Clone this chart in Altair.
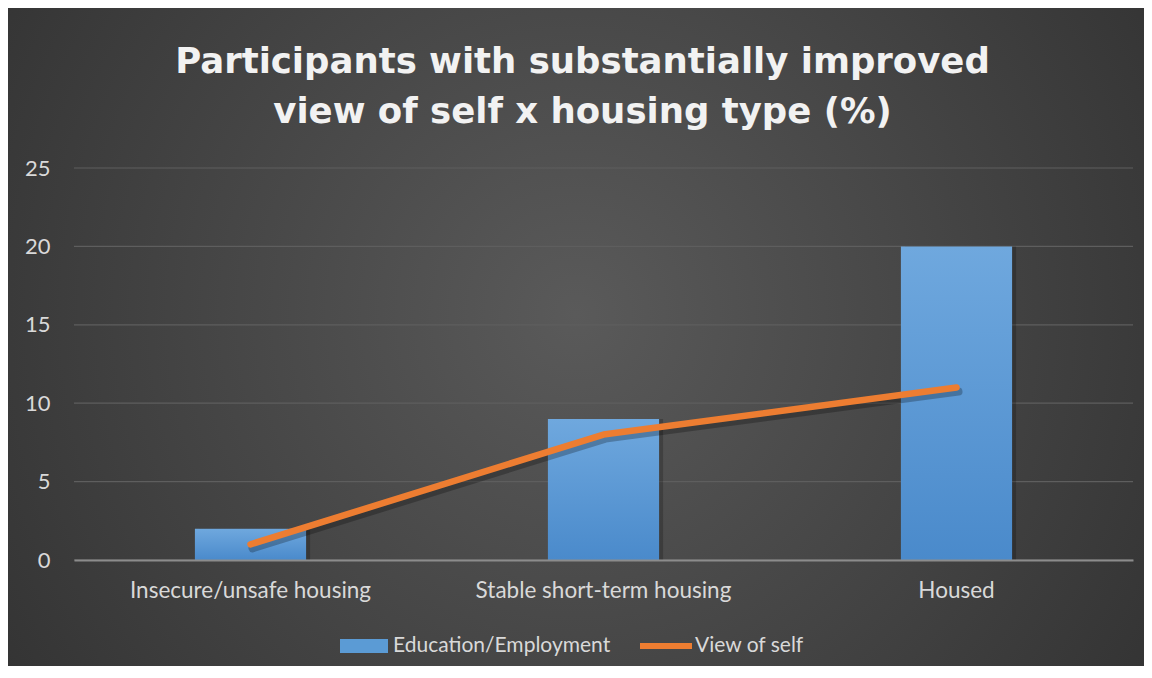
import altair as alt
import pandas as pd

# ---- data ----
categories = ["Insecure/unsafe housing", "Stable short-term housing", "Housed"]
education_employment = [2, 9, 20]
view_of_self = [1, 8, 11]
y_ticks = [0, 5, 10, 15, 20, 25]
series_names = ["Education/Employment", "View of self"]
title_lines = ["Participants with substantially improved", "view of self x housing type (%)"]

bar_df = pd.DataFrame({"category": categories, "value": education_employment, "series": series_names[0]})
line_df = pd.DataFrame({"category": categories, "value": view_of_self, "series": series_names[1]})
grid_df = pd.DataFrame({"value": y_ticks})

# ---- layout ----
W, H = 1059, 392
PAD_L, PAD_T, PAD_R, PAD_B = 66, 160, 11, 106
TOTAL_W = PAD_L + W + PAD_R
TOTAL_H = PAD_T + H + PAD_B
FONT = "Lato"
TXT = "#d9d9d9"

x_enc = alt.X(
    "category:N",
    sort=categories,
    scale=alt.Scale(paddingInner=0.685, paddingOuter=0.3425),
    axis=alt.Axis(
        title=None, labelAngle=0, labelFont=FONT, labelFontSize=22.5, labelColor=TXT,
        labelPadding=19, labelLimit=400, ticks=False, domain=True, domainColor="#8c8c8c",
        domainWidth=2, grid=False, zindex=1,
    ),
)
y_enc = alt.Y(
    "value:Q",
    scale=alt.Scale(domain=[0, 25], nice=False),
    axis=alt.Axis(
        title=None, values=y_ticks, labelFont=FONT, labelFontSize=22, labelColor=TXT,
        labelPadding=24, ticks=False, domain=False, grid=False, zindex=1,
    ),
)

# background (decoration covering the whole chart)
bg = alt.Chart(alt.Data(values=[{"k": 1}])).mark_rect(
    fill=alt.RadialGradient(
        gradient="radial",
        stops=[alt.GradientStop(color="#5a5a5a", offset=0), alt.GradientStop(color="#282828", offset=1)],
        x1=0.5, y1=0.48, r1=0, x2=0.5, y2=0.48, r2=0.78,
    )
).encode(
    x=alt.value(-PAD_L), x2=alt.value(TOTAL_W - PAD_L),
    y=alt.value(-PAD_T), y2=alt.value(TOTAL_H - PAD_T),
)

grid = alt.Chart(grid_df).mark_rule(color="#5e5e5e", strokeWidth=1.2).encode(y=y_enc)

bar_shadow = alt.Chart(bar_df).mark_bar(color="#000000", opacity=0.2, xOffset=4).encode(
    x=x_enc, y=y_enc
)

bars = alt.Chart(bar_df).mark_bar(
    fill=alt.LinearGradient(
        gradient="linear",
        stops=[alt.GradientStop(color="#6fa8de", offset=0), alt.GradientStop(color="#4a8acb", offset=1)],
        x1=0, x2=0, y1=0, y2=1,
    )
).encode(x=x_enc, y=y_enc)

bar_legend = alt.Chart(bar_df).mark_bar(opacity=0).encode(
    x=x_enc, y=y_enc,
    color=alt.Color(
        "series:N",
        scale=alt.Scale(domain=[series_names[0]], range=["#5b9bd5"]),
        legend=alt.Legend(
            orient="none", legendX=266, legendY=454, title=None,
            symbolType="M-1,-0.29H1V0.29H-1Z", symbolSize=2304, symbolOpacity=1,
            symbolStrokeWidth=0, labelFont=FONT, labelFontSize=21, labelColor=TXT,
            labelOffset=5, labelLimit=400, padding=0, zindex=1,
        ),
    ),
)

line_shadow = alt.Chart(line_df).mark_line(
    color="#000000", opacity=0.25, strokeWidth=8, strokeCap="round", strokeJoin="round",
    xOffset=2, yOffset=4,
).encode(x=x_enc, y=y_enc)

line = alt.Chart(line_df).mark_line(
    strokeWidth=6.5, strokeCap="round", strokeJoin="round"
).encode(
    x=x_enc, y=y_enc,
    stroke=alt.Stroke(
        "series:N",
        scale=alt.Scale(domain=[series_names[1]], range=["#ed7d31"]),
        legend=alt.Legend(
            orient="none", legendX=563, legendY=449, title=None,
            symbolType="stroke", symbolSize=2704, symbolStrokeWidth=6,
            labelFont=FONT, labelFontSize=21, labelColor=TXT, labelOffset=0,
            labelLimit=400, padding=0, zindex=1,
        ),
    ),
)

chart = alt.layer(bg, grid, bar_shadow, bars, bar_legend, line_shadow, line).resolve_scale(
    color="independent", stroke="independent"
).properties(
    width=W,
    height=H,
    title=alt.TitleParams(
        text=title_lines, font="DejaVu Sans", fontSize=35.5, fontWeight="bold", color="#f2f2f2",
        lineHeight=50, anchor="middle", frame="group", offset=0, dx=-21, dy=122, zindex=1,
    ),
    autosize=alt.AutoSizeParams(type="none"),
    padding={"left": PAD_L, "top": PAD_T, "right": PAD_R, "bottom": PAD_B},
    background="#2b2b2b",
).configure_view(stroke="transparent").configure(font=FONT)

chart.save("out.html", embed_options={"renderer": "svg", "actions": False})
